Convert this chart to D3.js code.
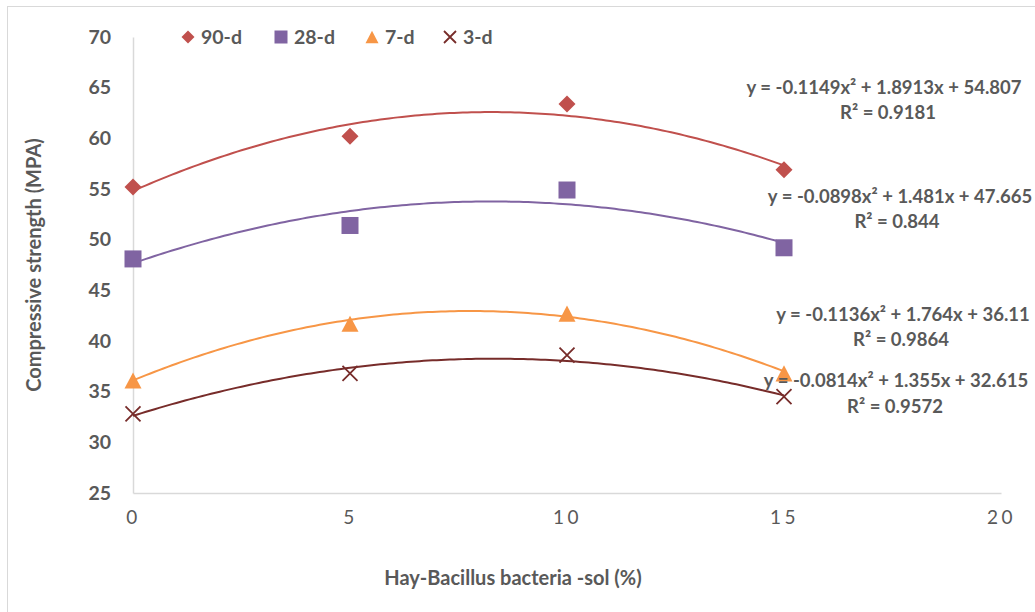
<!DOCTYPE html>
<html>
<head>
<meta charset="utf-8">
<script src="https://cdn.jsdelivr.net/npm/d3@7"></script>
<style>
  html, body { margin: 0; padding: 0; background: #fff; }
  svg { display: block; }
</style>
</head>
<body>
<svg id="chart" width="1035" height="612"></svg>
<script>
// Bacteria solution dosage (%) and compressive strength per curing age
const dosage = [0, 5, 10, 15];
const series = ["90-d", "28-d", "7-d", "3-d"];
const strength90 = [55.2, 60.2, 63.4, 56.9];
const strength28 = [48.1, 51.4, 54.9, 49.2];
const strength7 = [36.1, 41.7, 42.7, 36.8];
const strength3 = [32.8, 36.8, 38.6, 34.5];
// Quadratic trend coefficients [a, b, c] for y = a x^2 + b x + c
const trend90 = [-0.1149, 1.8913, 54.807];
const trend28 = [-0.0898, 1.481, 47.665];
const trend7 = [-0.1136, 1.764, 36.11];
const trend3 = [-0.0814, 1.355, 32.615];
const rSquared = ["0.9181", "0.844", "0.9864", "0.9572"];
const equationText = [
  "y = -0.1149x² + 1.8913x + 54.807",
  "y = -0.0898x² + 1.481x + 47.665",
  "y = -0.1136x² + 1.764x + 36.11",
  "y = -0.0814x² + 1.355x + 32.615"
];
const xTicks = [0, 5, 10, 15, 20];
const yTicks = [25, 30, 35, 40, 45, 50, 55, 60, 65, 70];

const colors = ["#C0504D", "#8064A2", "#F79646", "#772C2A"];
const shapes = ["diamond", "square", "triangle", "cross"];
const values = [strength90, strength28, strength7, strength3];
const trends = [trend90, trend28, trend7, trend3];
const textColor = "#595959";
const font = "Lato, 'Open Sans', sans-serif";

const svg = d3.select("#chart");

// outer chart frame
svg.append("rect")
  .attr("x", 7.5).attr("y", 6.5)
  .attr("width", 1100).attr("height", 700)
  .attr("fill", "none").attr("stroke", "#d9d9d9").attr("stroke-width", 1);

const x = d3.scaleLinear().domain([0, 20]).range([133, 1001]);
const y = d3.scaleLinear().domain([25, 70]).range([493, 37]);

// axes
const yAxis = svg.append("g").attr("transform", `translate(${x(0)},0)`)
  .call(d3.axisLeft(y).tickValues(yTicks).tickSize(0).tickPadding(22));
yAxis.select(".domain").attr("stroke", "#d9d9d9").attr("stroke-width", 1.5);
yAxis.selectAll("text")
  .attr("font-family", font).attr("font-weight", "bold")
  .attr("font-size", 19.5).attr("fill", textColor);

const xAxis = svg.append("g").attr("transform", `translate(0,${y(25)})`)
  .call(d3.axisBottom(x).tickValues(xTicks).tickSize(0).tickPadding(18));
xAxis.select(".domain").attr("stroke", "#d9d9d9").attr("stroke-width", 1.5);
xAxis.selectAll("text")
  .attr("font-family", font).attr("font-weight", "normal")
  .attr("font-size", 19).attr("letter-spacing", 3.5).attr("fill", textColor);

// axis titles
svg.append("text")
  .attr("x", 513).attr("y", 585)
  .attr("text-anchor", "middle")
  .attr("font-family", font)
  .attr("font-weight", "bold").attr("font-size", 20)
  .attr("fill", textColor)
  .text("Hay-Bacillus bacteria -sol (%)");

svg.append("text")
  .attr("transform", "translate(41,265) rotate(-90)")
  .attr("text-anchor", "middle")
  .attr("font-family", font).attr("font-weight", "bold").attr("font-size", 20)
  .attr("fill", textColor)
  .text("Compressive strength (MPA)");

// trend curves
const curveX = d3.range(0, 15.0001, 0.1);
const line = d3.line().x(d => x(d[0])).y(d => y(d[1])).curve(d3.curveLinear);
trends.forEach((t, i) => {
  const pts = curveX.map(v => [v, t[0] * v * v + t[1] * v + t[2]]);
  svg.append("path")
    .attr("d", line(pts))
    .attr("fill", "none").attr("stroke", colors[i]).attr("stroke-width", 2);
});

// marker drawing
function drawMarker(g, shape, color, cx, cy, s) {
  if (shape === "diamond") {
    g.append("path")
      .attr("d", `M${cx},${cy - s / 2}L${cx + s / 2},${cy}L${cx},${cy + s / 2}L${cx - s / 2},${cy}Z`)
      .attr("fill", color);
  } else if (shape === "square") {
    g.append("rect")
      .attr("x", cx - s / 2).attr("y", cy - s / 2)
      .attr("width", s).attr("height", s).attr("fill", color);
  } else if (shape === "triangle") {
    const h = s * 0.95;
    g.append("path")
      .attr("d", `M${cx},${cy - h / 2}L${cx + s / 2},${cy + h / 2}L${cx - s / 2},${cy + h / 2}Z`)
      .attr("fill", color);
  } else {
    const r = s / 2;
    g.append("path")
      .attr("d", `M${cx - r},${cy - r}L${cx + r},${cy + r}M${cx - r},${cy + r}L${cx + r},${cy - r}`)
      .attr("stroke", color).attr("stroke-width", 1.8).attr("fill", "none");
  }
}

const markers = svg.append("g");
values.forEach((vals, i) => {
  vals.forEach((v, j) => {
    drawMarker(markers, shapes[i], colors[i], x(dosage[j]), y(v), shapes[i] === "cross" ? 15 : 17);
  });
});

// legend
const legendX = [188, 281, 372, 450];
const legend = svg.append("g");
series.forEach((name, i) => {
  drawMarker(legend, shapes[i], colors[i], legendX[i], 37, shapes[i] === "cross" ? 12 : 13);
  legend.append("text")
    .attr("x", legendX[i] + 13).attr("y", 37)
    .attr("dy", "0.35em")
    .attr("font-family", font).attr("font-weight", "bold").attr("font-size", 19.5)
    .attr("fill", textColor)
    .text(name);
});

// trend equations and R² labels
const eqPos = [[884, 88, 888, 113], [900, 197, 897, 222], [903, 315, 901, 340], [896, 381, 895, 407]];
equationText.forEach((eq, i) => {
  const p = eqPos[i];
  svg.append("text")
    .attr("x", p[0]).attr("y", p[1]).attr("dy", "0.35em")
    .attr("text-anchor", "middle")
    .attr("font-family", font).attr("font-weight", "bold").attr("font-size", 18.5)
    .attr("fill", textColor).text(eq);
  svg.append("text")
    .attr("x", p[2]).attr("y", p[3]).attr("dy", "0.35em")
    .attr("text-anchor", "middle")
    .attr("font-family", font).attr("font-weight", "bold").attr("font-size", 18.5)
    .attr("fill", textColor).text("R² = " + rSquared[i]);
});
</script>
</body>
</html>
